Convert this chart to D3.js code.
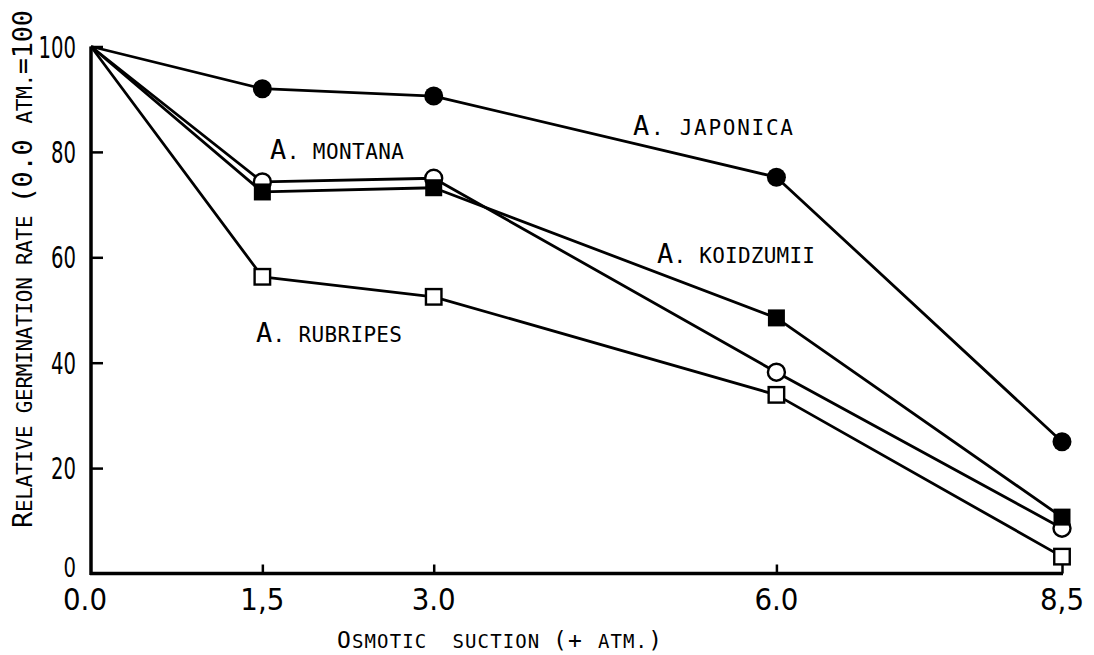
<!DOCTYPE html>
<html>
<head>
<meta charset="utf-8">
<script src="https://cdn.jsdelivr.net/npm/d3@7"></script>
<style>
  html, body { margin: 0; padding: 0; background: #fff; }
  svg { display: block; }
  text { white-space: pre; }
</style>
</head>
<body>
<svg id="chart" width="1094" height="655"></svg>
<script>
// Osmotic suction levels (+ atm.)
const suction = [0.0, 1.5, 3.0, 6.0, 8.5];
const suctionTickLabels = ["0.0", "1,5", "3.0", "6.0", "8,5"];

// Relative germination rate (0.0 atm. = 100)
const japonica  = [100, 92.0, 90.6, 75.2, 25.0];
const montana   = [100, 74.3, 75.0, 38.2, 8.6];
const koidzumii = [100, 72.4, 73.2, 48.5, 10.7];
const rubripes  = [100, 56.3, 52.5, 33.9, 3.2];

const rateTicks = [0, 20, 40, 60, 80, 100];

const series = [
  { name: "japonica",  values: japonica,  marker: "circle", filled: true },
  { name: "montana",   values: montana,   marker: "circle", filled: false },
  { name: "koidzumii", values: koidzumii, marker: "square", filled: true },
  { name: "rubripes",  values: rubripes,  marker: "square", filled: false }
];

const svg = d3.select("#chart");
const x = d3.scaleLinear().domain([0, 8.5]).range([91, 1062]);
const y = d3.scaleLinear().domain([0, 100]).range([573.5, 46.5]);

const MONO = "'DejaVu Sans Mono', 'Liberation Mono', monospace";
const NARROW = "'Liberation Sans Narrow', 'DejaVu Sans Condensed', 'Liberation Sans', sans-serif";

// ---- axes ----
const xAxis = d3.axisBottom(x)
  .tickValues(suction.slice(1))
  .tickSizeInner(-9).tickSizeOuter(0)
  .tickFormat("");
const gx = svg.append("g").attr("transform", `translate(0,${y(0)})`).call(xAxis);
gx.select(".domain").attr("stroke", "#000").attr("stroke-width", 3.5)
  .attr("d", `M${x(0) - 1},0H${x(8.5) + 1}`);
gx.selectAll(".tick line").attr("stroke", "#000").attr("stroke-width", 2.5);

const yAxis = d3.axisLeft(y)
  .tickValues(rateTicks.slice(1))
  .tickSizeInner(-12).tickSizeOuter(0)
  .tickFormat("");
const gy = svg.append("g").attr("transform", `translate(${x(0)},0)`).call(yAxis);
gy.select(".domain").attr("stroke", "#000").attr("stroke-width", 3.5)
  .attr("d", `M0,${y(0) + 1.5}V${y(100)}`);
gy.selectAll(".tick line").attr("stroke", "#000").attr("stroke-width", 2.5);

// tick labels: tall, narrow typewriter digits
svg.append("g").selectAll("text")
  .data(suction)
  .join("text")
  .attr("x", (d, i) => x(d) - (i === 0 ? 6 : 0))
  .attr("y", 610)
  .attr("text-anchor", "middle")
  .attr("font-family", NARROW)
  .attr("font-size", 30)
  .attr("textLength", 44)
  .attr("lengthAdjust", "spacingAndGlyphs")
  .text((d, i) => suctionTickLabels[i]);

svg.append("g").selectAll("text")
  .data(rateTicks)
  .join("text")
  .attr("x", 76)
  .attr("y", d => y(d) + (d === 0 ? 3 : 11))
  .attr("text-anchor", "end")
  .attr("font-family", NARROW)
  .attr("font-size", d => d === 0 ? 26 : 30)
  .attr("textLength", d => String(d).length * 12.5)
  .attr("lengthAdjust", "spacingAndGlyphs")
  .text(d => String(d));

// ---- series lines ----
const line = d3.line()
  .x((d, i) => x(suction[i]))
  .y(d => y(d));

svg.append("g").selectAll("path")
  .data(series)
  .join("path")
  .attr("d", s => line(s.values))
  .attr("fill", "none")
  .attr("stroke", "#000")
  .attr("stroke-width", 2.8)
  .attr("stroke-linejoin", "round");

// ---- markers (skip the 0.0 reference point) ----
series.forEach(s => {
  const pts = s.values.map((v, i) => ({ sx: suction[i], v })).slice(1);
  const g = svg.append("g");
  if (s.marker === "circle") {
    g.selectAll("circle").data(pts).join("circle")
      .attr("cx", d => x(d.sx)).attr("cy", d => y(d.v))
      .attr("r", s.filled ? 9.5 : 8.5)
      .attr("fill", s.filled ? "#000" : "#fff")
      .attr("stroke", "#000").attr("stroke-width", s.filled ? 0 : 2.4);
  } else {
    const side = s.filled ? 17 : 15.5;
    g.selectAll("rect").data(pts).join("rect")
      .attr("x", d => x(d.sx) - side / 2).attr("y", d => y(d.v) - side / 2)
      .attr("width", side).attr("height", side)
      .attr("fill", s.filled ? "#000" : "#fff")
      .attr("stroke", "#000").attr("stroke-width", s.filled ? 0 : 2.4);
  }
});

// ---- small-caps text helper ----
// parts: [text, big?]
function smallCaps(sel, parts, bigSize, smallSize) {
  parts.forEach(([t, big]) => {
    sel.append("tspan")
      .attr("font-size", big ? bigSize : smallSize)
      .text(t);
  });
  return sel;
}

// species labels
const speciesLabels = [
  { text: "JAPONICA",  x: 633, y: 135, w: 160 },
  { text: "MONTANA",   x: 270, y: 159, w: 134 },
  { text: "KOIDZUMII", x: 657, y: 263, w: 158 },
  { text: "RUBRIPES",  x: 256, y: 342, w: 146 }
];
speciesLabels.forEach(l => {
  const t = svg.append("text")
    .attr("x", l.x).attr("y", l.y)
    .attr("font-family", MONO)
    .attr("textLength", l.w)
    .attr("lengthAdjust", "spacing");
  smallCaps(t, [["A", true], [". ", false], [l.text, false]], 27, 21);
});

// x-axis title
const xt = svg.append("text")
  .attr("x", 337).attr("y", 648)
  .attr("font-family", MONO)
  .attr("textLength", 325)
  .attr("lengthAdjust", "spacing");
smallCaps(xt, [["O", true], ["SMOTIC  SUCTION ", false], ["(+ ", true], ["ATM.", false], [")", true]], 23, 19);

// y-axis title
const yt = svg.append("text")
  .attr("transform", "translate(32,528) rotate(-90)")
  .attr("font-family", MONO)
  .attr("textLength", 518)
  .attr("lengthAdjust", "spacing");
smallCaps(yt, [["R", true], ["ELATIVE GERMINATION RATE ", false], ["(0.0 ", true], ["ATM.", false], ["=100", true]], 27, 21);
</script>
</body>
</html>
